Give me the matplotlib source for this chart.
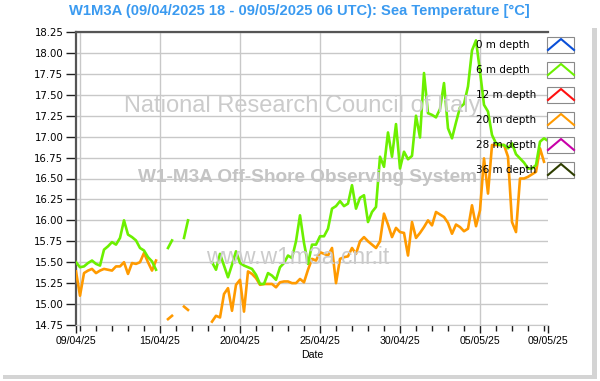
import numpy as np
import pandas as pd
import matplotlib
matplotlib.use("Agg")
import matplotlib.pyplot as plt
import matplotlib.dates as mdates
from matplotlib.lines import Line2D
from matplotlib.patches import Rectangle

nan = np.nan

# 6-hourly samples, 09/04/2025 18 UTC -> 09/05/2025 06 UTC
times = pd.date_range("2025-04-09 18:00", "2025-05-09 06:00", freq="6h")

temp_6m = [
    15.50, 15.44, 15.45, 15.49, 15.52, 15.48, 15.46, 15.65, 15.69, 15.74,
    15.71, 15.79, 16.00, 15.83, 15.80, 15.76, 15.67, 15.64, 15.56, 15.51,
    15.41, nan, nan, 15.67, 15.76, nan, nan, 15.79, 16.00, nan,
    nan, nan, nan, nan, 15.50, 15.41, 15.60, 15.46, 15.32, 15.47,
    15.63, 15.49, 15.46, 15.44, 15.42, 15.35, 15.24, 15.24, 15.37, 15.34,
    15.29, 15.44, 15.49, 15.58, 15.55, 15.75, 16.06, 15.73, 15.48, 15.71,
    15.71, 15.81, 15.81, 15.90, 16.14, 16.17, 16.23, 16.17, 16.20, 16.42,
    16.14, 16.27, 16.30, 15.98, 16.10, 16.16, 16.76, 16.64, 17.05, 16.76,
    17.15, 16.62, 16.82, 16.73, 16.77, 17.25, 16.99, 17.76, 17.28, 17.26,
    17.23, 17.33, 17.64, 17.10, 16.98, 17.17, 17.35, 17.39, 17.60, 18.03,
    18.15, 17.78, 17.38, 17.30, 17.02, 16.92, 16.90, 16.90, 16.86, 16.92,
    16.79, 16.74, 16.69, 16.62, 16.62, 16.66, 16.94, 16.98, 16.95,
]

temp_20m = [
    15.39, 15.10, 15.37, 15.40, 15.42, 15.37, 15.40, 15.42, 15.41, 15.40,
    15.45, 15.45, 15.50, 15.36, 15.49, 15.48, 15.50, 15.61, 15.50, 15.40,
    15.52, nan, nan, 14.82, 14.86, nan, nan, 14.97, 14.93, nan,
    nan, nan, nan, nan, 14.79, 14.86, 14.84, 15.12, 15.19, 14.92,
    15.23, 15.29, 14.91, 15.39, 15.36, 15.31, 15.23, 15.24, 15.24, 15.24,
    15.20, 15.26, 15.27, 15.27, 15.25, 15.25, 15.30, 15.26, 15.41, 15.54,
    15.52, 15.62, 15.60, 15.58, 15.67, 15.25, 15.54, 15.56, 15.57, 15.67,
    15.60, 15.75, 15.80, 15.75, 15.71, 15.67, 15.75, 16.08, 15.95, 15.80,
    15.91, 15.86, 15.85, 15.58, 15.98, 15.79, 15.85, 15.92, 16.00, 15.94,
    16.10, 16.07, 16.04, 15.97, 15.84, 15.95, 15.92, 15.87, 15.90, 16.18,
    15.93, 16.12, 16.74, 16.32, 16.90, 16.90, 16.90, 16.90, 16.76, 15.98,
    15.86, 16.50, 16.50, 16.52, 16.55, 16.58, 16.86, 16.70, nan,
]

depth_labels = ["0 m depth", "6 m depth", "12 m depth", "20 m depth", "28 m depth", "36 m depth"]
depth_colors = ["#0a4fd8", "#6cf000", "#ff1010", "#ff9a00", "#c800a8", "#2e3d00"]

title = "W1M3A (09/04/2025 18 - 09/05/2025 06 UTC): Sea Temperature [°C]"

W, H = 600, 381
fig = plt.figure(figsize=(6, 3.81), dpi=100)
fig.patch.set_facecolor("white")


def fx(x):
    return x / W


def fy(y):
    return 1 - y / H


ax = fig.add_axes([fx(76), fy(325), fx(548) - fx(76), fy(32) - fy(325)])
ax.set_facecolor("white")

# watermark texts
ax.text(0.5, 0.5, "", transform=ax.transAxes)
fig.text(fx(302), fy(106), "National Research Council of Italy", fontsize=17,
         family="Liberation Sans", color="#cbcbcb", ha="center", va="center", zorder=0)
fig.text(fx(307), fy(178), "W1-M3A Off-Shore Observing System", fontsize=13.7,
         family="Liberation Sans", fontweight="bold", color="#c4c4c4", ha="center", va="center", zorder=0)
fig.text(fx(298), fy(257), "www.w1m3a.cnr.it", fontsize=16.5,
         family="Liberation Sans", color="#cbcbcb", ha="center", va="center", zorder=0)

# grid
for v in np.arange(14.75, 18.26, 0.25):
    ax.axhline(v, color="#c8c8c8", lw=1, zorder=1)
for d in ["2025-04-10", "2025-04-15", "2025-04-20", "2025-04-25", "2025-04-30", "2025-05-05"]:
    ax.axvline(pd.Timestamp(d), color="#c8c8c8", lw=1, zorder=1)

ax.plot(times, temp_20m, color=depth_colors[3], lw=1.9, zorder=3)
ax.plot(times, temp_6m, color=depth_colors[1], lw=1.9, zorder=4)

ax.set_xlim(times[0], times[-1])
ax.set_ylim(14.75, 18.25)
ax.set_yticks(np.arange(14.75, 18.26, 0.25))
ax.yaxis.set_major_formatter(matplotlib.ticker.FormatStrFormatter("%.2f"))

major = [times[0], pd.Timestamp("2025-04-15"), pd.Timestamp("2025-04-20"),
         pd.Timestamp("2025-04-25"), pd.Timestamp("2025-04-30"),
         pd.Timestamp("2025-05-05"), times[-1]]
ax.set_xticks(major)
ax.set_xticklabels([t.strftime("%d/%m/%y") for t in major], family="Liberation Sans", fontsize=7.6)
ax.set_xticks(pd.date_range("2025-04-10", "2025-05-09", freq="D"), minor=True)
ax.tick_params(axis="x", which="major", length=6, width=1, color="#202020", pad=2)
ax.tick_params(axis="x", which="minor", length=4, width=1, color="#202020")
ax.tick_params(axis="y", length=7, width=1, color="#202020", pad=2, labelsize=7.3)
ax.set_xlabel("Date", family="Liberation Sans", fontsize=7.6, labelpad=3)

for s in ["right"]:
    ax.spines[s].set_visible(False)
ax.spines["bottom"].set_color("#c8c8c8")
ax.spines["left"].set_color("#555555")
ax.spines["left"].set_linewidth(1.6)
ax.spines["top"].set_color("#555555")
ax.spines["top"].set_linewidth(1.6)

fig.text(fx(299), fy(11), title, fontsize=10.6, family="Liberation Sans",
         fontweight="bold", color="#3a9af0", ha="center", va="center")

# CNR logo (rough)
logo_col = "#a4a4a4"
logo_paths = [
    [(131, 53), (106, 53), (99, 57), (96, 64), (96, 80), (99, 87), (106, 91), (148, 91)],
    [(131, 60), (112, 60), (106, 64), (105, 70), (105, 86)],
    [(117, 91), (117, 72), (120, 67), (126, 65), (140, 65), (145, 69), (147, 75), (147, 92)],
]
for pts in logo_paths:
    xs = [fx(p[0]) for p in pts]
    ys = [fy(p[1]) for p in pts]
    fig.add_artist(Line2D(xs, ys, color=logo_col, lw=3.6, solid_joinstyle="round",
                          solid_capstyle="butt", zorder=0))

# legend on the right
for k, (lab, col) in enumerate(zip(depth_labels, depth_colors)):
    yc = 45 + 25 * k
    fig.text(fx(476), fy(yc), lab, fontsize=7.5, family="DejaVu Sans", color="black",
             ha="left", va="center", zorder=6)
    fig.add_artist(Rectangle((fx(547), fy(yc + 8)), fx(27), 16 / H, facecolor="white",
                             edgecolor="#8a8a8a", lw=0.8, zorder=5))
    fig.add_artist(Line2D([fx(548), fx(561), fx(574)], [fy(yc + 5), fy(yc - 6), fy(yc + 5)],
                          color=col, lw=1.5, zorder=6))

# panel shadow
fig.add_artist(Rectangle((fx(592), fy(379)), fx(5), (379 - 28) / H, facecolor="#d4d4d4",
                         edgecolor="none", zorder=0))
fig.add_artist(Rectangle((fx(3), fy(379)), fx(594), 4 / H, facecolor="#d4d4d4",
                         edgecolor="none", zorder=0))

fig.savefig("out.png", dpi=100, facecolor="white")
